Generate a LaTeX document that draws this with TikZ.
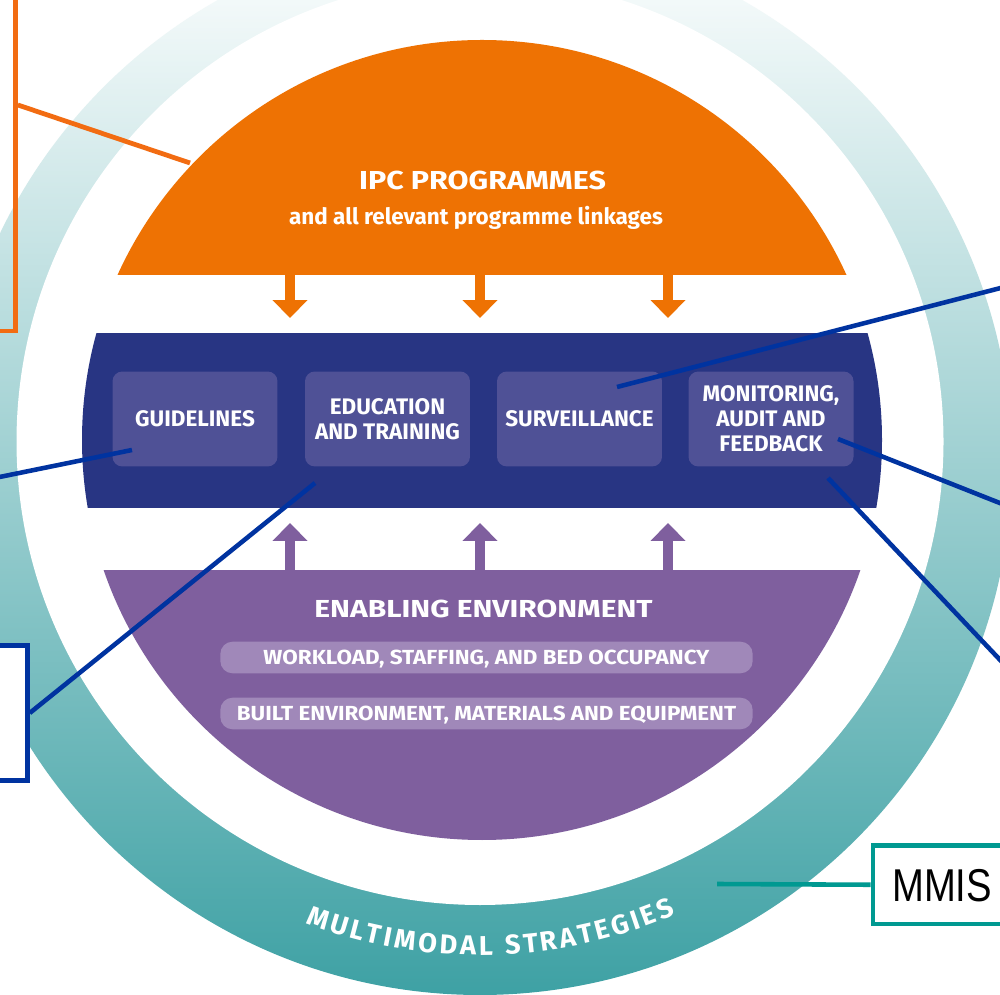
\documentclass[tikz,border=0pt]{standalone}
\usepackage{fontspec}
\setmainfont{Fira Sans}
\newfontfamily\ipcfont[FakeStretch=1.17]{Fira Sans}
\newfontfamily\enablefont[FakeStretch=1.22]{Fira Sans}
\newfontfamily\pillfont[FakeStretch=1.1]{Fira Sans}
\newfontfamily\mmisfont[FakeStretch=0.83]{Liberation Sans}
\usetikzlibrary{arrows.meta,decorations.text}

\definecolor{ipcOrange}{RGB}{238,114,3}
\definecolor{coreBlue}{RGB}{40,53,131}
\definecolor{boxBlue}{RGB}{79,81,150}
\definecolor{enablePurple}{RGB}{127,95,158}
\definecolor{pillPurple}{RGB}{160,136,185}
\definecolor{ringTeal}{RGB}{62,161,164}
\definecolor{noteBlue}{RGB}{0,51,160}
\definecolor{noteOrange}{RGB}{242,108,18}
\definecolor{noteTeal}{RGB}{0,153,145}

\begin{document}
\begin{tikzpicture}
[x=0.02cm, y=0.02cm,
  boxDecorate/.style={fill=boxBlue, rounded corners=5.5pt, inner sep=0pt,
    minimum width=93.9pt, minimum height=54pt, align=center, text=white,
    font=\bfseries\fontsize{12.8}{14.2}\selectfont},
  pillDecorate/.style={fill=pillPurple, rounded corners=7pt, inner sep=0pt,
    minimum width=303pt, minimum height=18pt, text height=8pt, text depth=0pt,
    text=white, font=\pillfont\bfseries\fontsize{11.6}{12}\selectfont},
  titleDecorate/.style={anchor=base, inner sep=0pt, text=white,
    font=\ipcfont\bfseries\fontsize{14.8}{16}\selectfont},
  arrowDecorate/.style={line width=5.7pt, -{Triangle[width=19.3pt,length=10.2pt]}},
  noteLine/.style={line width=2.6pt},
  noteBox/.style={draw, line width=2.6pt, inner sep=0pt}]

\useasboundingbox (0,0) rectangle (1000,994);
\clip (0,0) rectangle (1000,994);

%% outer ring of multimodal strategies
\fill[white] (0,0) rectangle (1000,994);
\shade[top color=white, bottom color=ringTeal] (480,531) circle[radius=532];
\fill[white] (480,552.5) circle[radius=463.5];

%% core disc in three bands
\begin{scope}
  \clip (482,554) circle[radius=400];
  \fill[ipcOrange] (0,719) rectangle (1000,1000);
  \fill[coreBlue] (0,486) rectangle (1000,661);
  \fill[enablePurple] (0,0) rectangle (1000,424);
\end{scope}

%% arrows into the core band
\foreach \i/\x in {1/290, 2/480, 3/668}
{
  \coordinate (ipcOut\i) at (\x,719);
  \coordinate (coreIn\i) at (\x,676);
  \coordinate (enableOut\i) at (\x,424);
  \coordinate (coreUp\i) at (\x,471);
  \draw[arrowDecorate, ipcOrange] (ipcOut\i) -- (coreIn\i);
  \draw[arrowDecorate, enablePurple] (enableOut\i) -- (coreUp\i);
}

%% core components
\foreach \nodename/\x/\txt in {
  guidelines/195/GUIDELINES,
  education/387.5/{EDUCATION\\AND TRAINING},
  surveillance/579.5/SURVEILLANCE,
  monitoring/771/{MONITORING,\\AUDIT AND\\FEEDBACK}}
{
  \node[boxDecorate] (\nodename) at (\x,575) {\txt};
}

%% titles and enabling items
\node[titleDecorate] (ipcTitle) at (482.5,804) {IPC PROGRAMMES};
\node[titleDecorate, font=\bfseries\fontsize{12.8}{14}\selectfont]
  (ipcSub) at (476,769) {and all relevant programme linkages};
\node[titleDecorate, font=\enablefont\bfseries\fontsize{14}{16}\selectfont]
  (enabling) at (483.5,376.7) {ENABLING ENVIRONMENT};
\node[pillDecorate] (workload) at (486.5,336.5) {WORKLOAD, STAFFING, AND BED OCCUPANCY};
\node[pillDecorate] (builtEnv) at (486.5,280.5) {BUILT ENVIRONMENT, MATERIALS AND EQUIPMENT};

%% ring label
\path[decorate, decoration={text along path, text align=fit to path, text color=white,
  text={|\bfseries\fontsize{15.5}{15.5}\selectfont|MULTIMODAL STRATEGIES}}]
  (480,531) ++(249.2:492) arc[start angle=249.2, end angle=293.4, radius=492];

%% callouts
\node[noteBox, draw=noteOrange, line width=2.7pt, minimum width=43pt, minimum height=257.2pt]
  (ipcNote) at (-22.25,889) {};
\node[noteBox, draw=noteBlue, fill=white, minimum width=38.4pt, minimum height=76.8pt]
  (trainingNote) at (-6.25,281) {};
\node[noteBox, draw=noteTeal, fill=white, anchor=west, minimum height=44.7pt,
  inner xsep=11.1pt, text width=90pt, align=left, text height=18.8pt, text depth=0pt,
  font=\mmisfont\fontsize{26.2}{28}\selectfont]
  (mmis) at (870.5,109.25) {MMIS};

\coordinate (ipcTip) at (190,831);
\coordinate (guideTip) at (132,544);
\coordinate (guideEnd) at (-20,513);
\coordinate (educTip) at (315,511);
\coordinate (survTip) at (617,607);
\coordinate (survEnd) at (1020,711);
\coordinate (monTipA) at (838,555);
\coordinate (monEndA) at (1020,483);
\coordinate (monTipB) at (828,516);
\coordinate (monEndB) at (1020,313);
\coordinate (ringTip) at (717,110);

\draw[noteLine, noteOrange, line width=2.7pt] (ipcTip) -- (ipcNote.east);
\draw[noteLine, noteBlue] (guideTip) -- (guideEnd);
\draw[noteLine, noteBlue] (educTip) -- (trainingNote.east);
\draw[noteLine, noteBlue] (survTip) -- (survEnd);
\draw[noteLine, noteBlue] (monTipA) -- (monEndA);
\draw[noteLine, noteBlue] (monTipB) -- (monEndB);
\draw[noteLine, noteTeal] (ringTip) -- (mmis.west);
\end{tikzpicture}
\end{document}
